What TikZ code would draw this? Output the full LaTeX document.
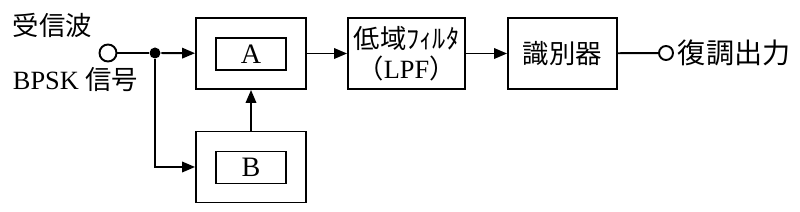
\documentclass[tikz,border=0pt]{standalone}
\usepackage{fontspec}
\setmainfont{Liberation Serif}
\newfontfamily\jp{Noto Sans CJK JP}
\usetikzlibrary{arrows.meta, positioning}

\begin{document}
\begin{tikzpicture}[x=0.02cm, y=-0.02cm, line width=1.1pt,
	outerbox/.style={draw, minimum width=2.2cm, minimum height=1.42cm, inner sep=0pt},
	innerbox/.style={draw, minimum width=1.4cm, minimum height=0.64cm, inner sep=0pt,
		font=\fontsize{16}{18}\selectfont},
	blockbox/.style={draw, minimum width=2.2cm, minimum height=1.42cm, inner sep=0pt,
		align=center, font=\fontsize{15}{17}\selectfont},
	flow/.style={-{Triangle[length=2.6mm, width=2.1mm]}},
	port/.style={circle, draw, fill=white, minimum size=0.34cm, inner sep=0pt},
	junction/.style={circle, fill, minimum size=0.22cm, inner sep=0pt},
	jptext/.style={anchor=west, inner sep=0pt, font=\jp\fontsize{15}{17}\selectfont}]
	\useasboundingbox (0,0) rectangle (800,212);
	% blocks
	\node[outerbox] (mixA) at (251,53.5) {};
	\node[innerbox] (A) at (251,54) {A};
	\node[outerbox] (mixB) at (251,167) {};
	\node[innerbox] (B) at (251,167.5) {B};
	\node[blockbox, minimum width=2.34cm] (lpf) at (406.5,53.5) {{\jp 低域ﾌｨﾙﾀ}\\{\jp （}LPF{\jp ）}};
	\node[blockbox, minimum width=2.18cm] (det) at (562.5,53.5) {\jp 識別器};
	% terminals
	\node[port] (in) at (108,53) {};
	\node[junction] (split) at (155,53) {};
	\node[port, minimum size=0.28cm] (out) at (666,53) {};
	% texts
	\node[jptext] (rxwave) at (12,25) {受信波};
	\node[jptext, font=\fontsize{15}{17}\selectfont] (bpsk) at (12,80) {BPSK {\jp 信号}};
	\node[jptext, font=\jp\fontsize{16}{18}\selectfont] (demod) at (677,53) {復調出力};
	% connectors
	\draw (in) -- (split);
	\draw[flow] (split) -- (mixA);
	\draw[flow] (split) |- (mixB);
	\draw[flow] (mixB) -- (mixA);
	\draw[flow] (mixA) -- (lpf);
	\draw[flow] (lpf) -- (det);
	\draw (det) -- (out);
\end{tikzpicture}
\end{document}
